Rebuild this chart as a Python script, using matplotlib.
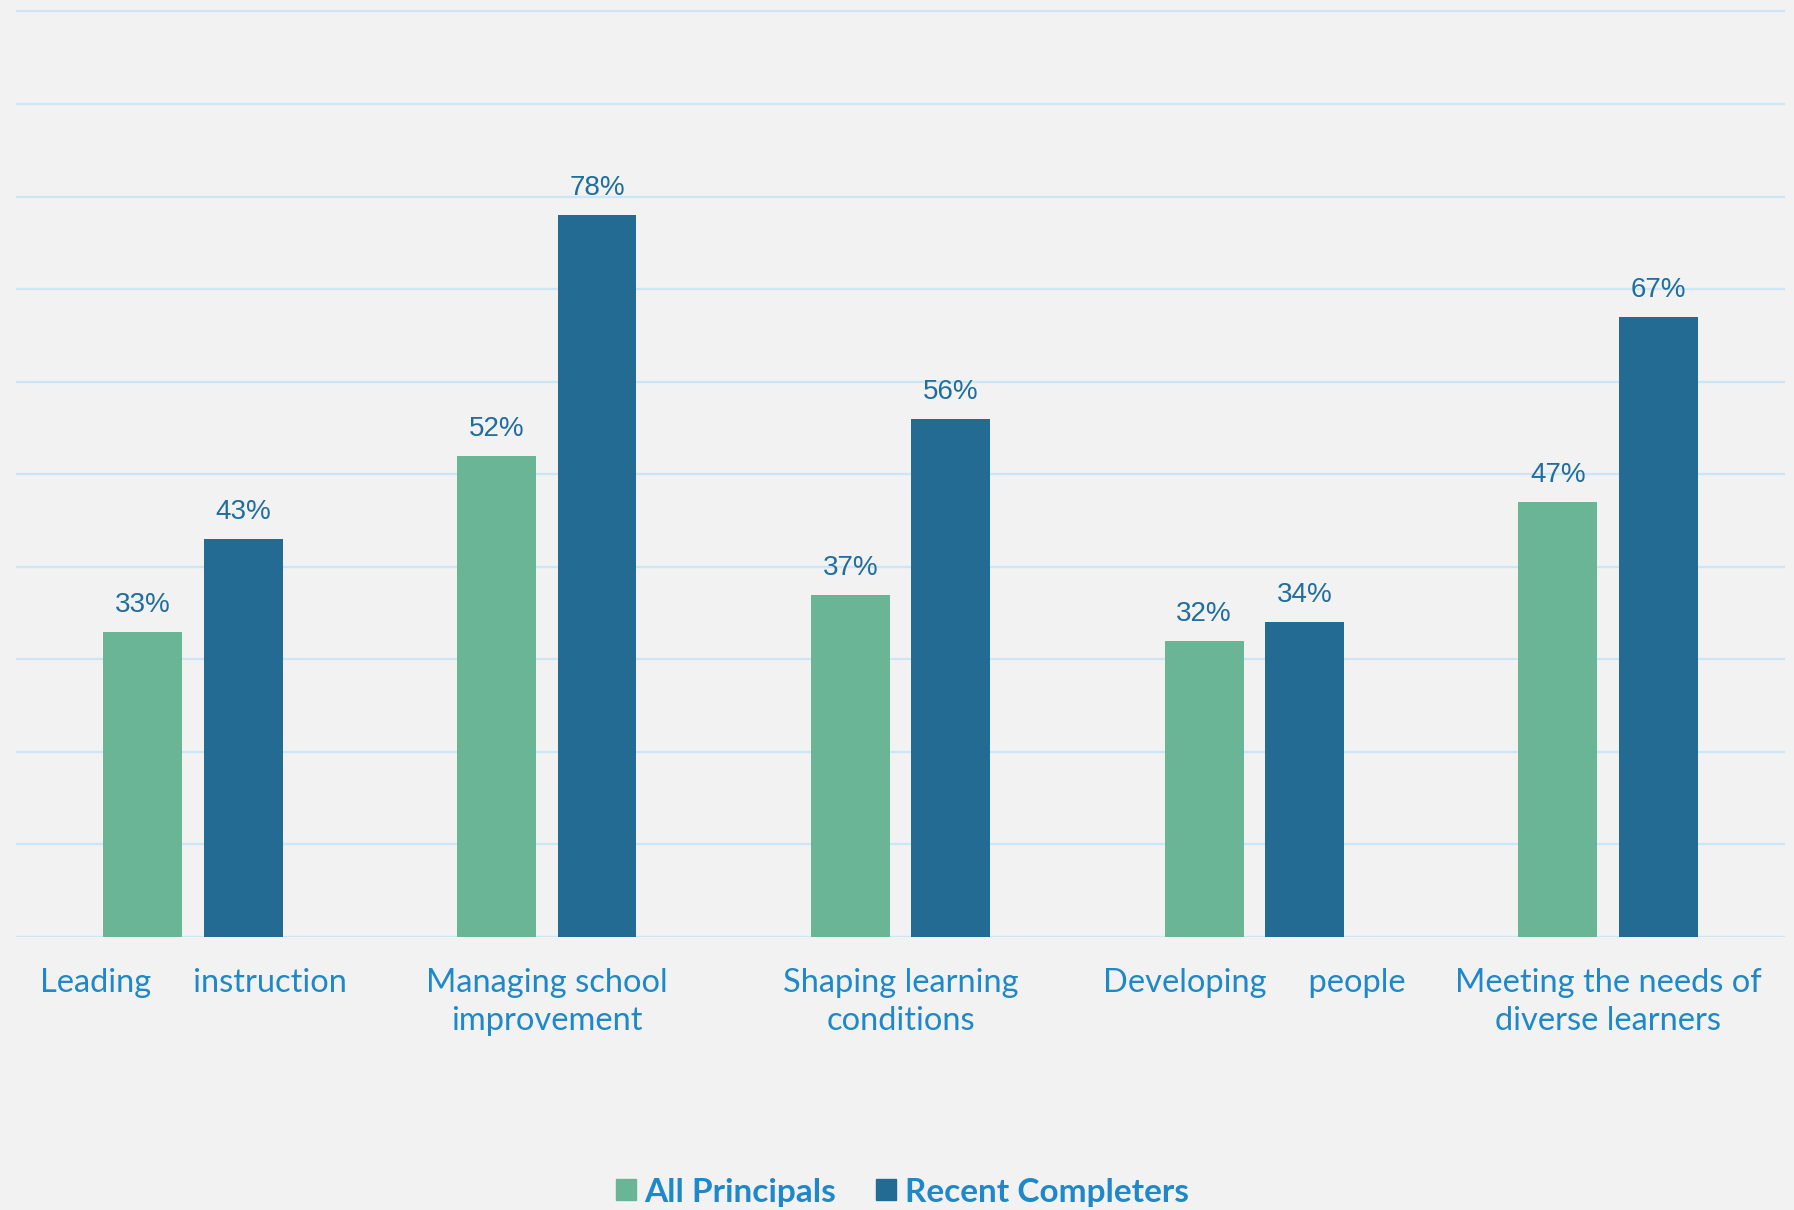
import matplotlib
matplotlib.use("Agg")
import matplotlib.pyplot as plt
from matplotlib.patches import Patch
import numpy as np

categorias = ["Leading     instruction",
              "Managing school\nimprovement",
              "Shaping learning\nconditions",
              "Developing     people",
              "Meeting the needs of\ndiverse learners"]
all_principals = [33, 52, 37, 32, 47]
recent_completers = [43, 78, 56, 34, 67]
series = ["All Principals", "Recent Completers"]

COR_VERDE = "#6BB597"
COR_AZUL = "#236B93"
COR_TEXTO = "#1E88C8"
COR_VALOR = "#1F6E9E"
COR_GRADE = "#CDE6F6"
FUNDO = "#F2F2F2"

FONTE_NARROW = ["Lato", "DejaVu Sans"]
FONTE_VALOR = ["Liberation Sans", "DejaVu Sans"]

fig = plt.figure(figsize=(17.94, 12.10), dpi=100, facecolor=FUNDO)
ax = fig.add_axes([0.009, 0.2256, 0.986, 0.768])
ax.set_facecolor(FUNDO)

x = np.arange(len(categorias))
largura = 0.223
desloc = 0.142

b1 = ax.bar(x - desloc, all_principals, largura, color=COR_VERDE, zorder=3)
b2 = ax.bar(x + desloc, recent_completers, largura, color=COR_AZUL, zorder=3)

# rotulos de valor
for barras, valores in ((b1, all_principals), (b2, recent_completers)):
    for b, v in zip(barras, valores):
        ax.annotate(f"{v}%", (b.get_x() + b.get_width() / 2, v),
                    xytext=(0, 10), textcoords="offset points",
                    ha="center", va="bottom", fontsize=20,
                    color=COR_VALOR, family=FONTE_VALOR)

# -------- EIXOS / GRADE --------
ax.set_xlim(-0.5, len(categorias) - 0.5)
ax.set_ylim(0, 100.4)
ax.set_yticks(np.arange(0, 101, 10))
ax.yaxis.grid(True, color=COR_GRADE, linewidth=1.6, zorder=0)
ax.tick_params(axis="y", left=False, labelleft=False)
ax.tick_params(axis="x", bottom=False, pad=19)
for lado in ax.spines.values():
    lado.set_visible(False)

ax.set_xticks(x)
ax.set_xticklabels(categorias, fontsize=23.5, color=COR_TEXTO,
                   family=FONTE_NARROW, linespacing=1.32, va="top")

# -------- LEGENDA --------
handles = [Patch(color=COR_VERDE), Patch(color=COR_AZUL)]
leg = fig.legend(handles, series, loc="lower center",
                 bbox_to_anchor=(0.503, -0.022), ncol=2, frameon=False,
                 handlelength=0.6, handleheight=0.6, handletextpad=0.25,
                 columnspacing=1.2,
                 prop={"family": FONTE_NARROW, "size": 24, "weight": "bold"})
for t in leg.get_texts():
    t.set_color(COR_TEXTO)

fig.savefig("out.png", dpi=100, facecolor=FUNDO)
